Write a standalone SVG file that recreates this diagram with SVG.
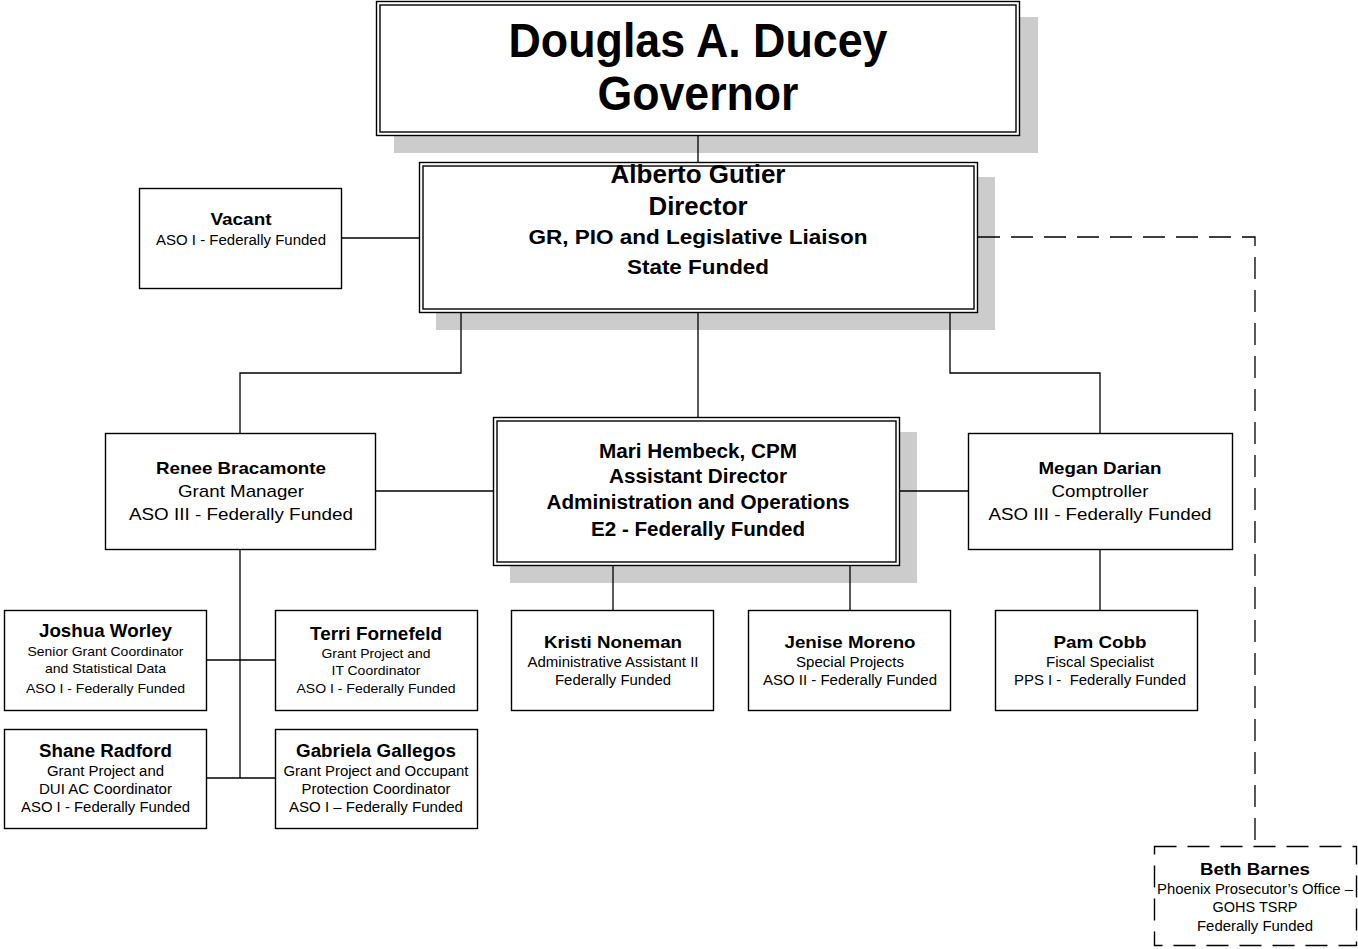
<svg xmlns="http://www.w3.org/2000/svg" width="1358" height="949" viewBox="0 0 1358 949">
<style>
.bg{fill:#ffffff}
.sh{fill:#cccccc;stroke:none}
.box{fill:#ffffff;stroke:#000000;stroke-width:1.4}
.inner{fill:none;stroke:#000000;stroke-width:1.4}
.dbox{fill:#ffffff;stroke:#000000;stroke-width:1.4;stroke-dasharray:22 11}
.ln{fill:none;stroke:#000000;stroke-width:1.3}
.dl{fill:none;stroke:#000000;stroke-width:1.3;stroke-dasharray:22 11}
text{font-family:"Liberation Sans",Arial,sans-serif;text-anchor:middle;fill:#000000}
.b{font-weight:bold}
</style>
<rect class="bg" x="0" y="0" width="1358" height="949"/>
<g id="shadows">
<rect class="sh" x="394" y="17" width="644" height="136"/>
<rect class="sh" x="436" y="177" width="559" height="153"/>
<rect class="sh" x="510" y="432" width="407" height="151"/>
</g>
<g id="connectors">
<path class="ln" d="M698 135 V162"/>
<path class="ln" d="M342 238 H419"/>
<path class="ln" d="M461 313 V373 H240 V433"/>
<path class="ln" d="M698 313 V417"/>
<path class="ln" d="M950 313 V373 H1100 V433"/>
<path class="ln" d="M376 491 H493"/>
<path class="ln" d="M900 491 H968"/>
<path class="ln" d="M240 550 V778"/>
<path class="ln" d="M207 660 H275"/>
<path class="ln" d="M207 778 H275"/>
<path class="ln" d="M613 566 V610"/>
<path class="ln" d="M850 566 V610"/>
<path class="ln" d="M1100 550 V610"/>
<path class="dl" d="M978 237 H1255 V846"/>
</g>
<g id="governor">
<rect class="box" x="376.5" y="1.5" width="643" height="134"/>
<rect class="inner" x="380" y="5" width="636" height="127"/>
<text class="b" x="698" y="57" font-size="48" textLength="379" lengthAdjust="spacingAndGlyphs">Douglas A. Ducey</text>
<text class="b" x="698" y="110" font-size="48" textLength="201" lengthAdjust="spacingAndGlyphs">Governor</text>
</g>
<g id="director">
<rect class="box" x="419.5" y="162.5" width="558" height="150"/>
<rect class="inner" x="423" y="166" width="551" height="143"/>
<text class="b" x="698" y="183" font-size="25" textLength="175" lengthAdjust="spacingAndGlyphs">Alberto Gutier</text>
<text class="b" x="698" y="215" font-size="25" textLength="99" lengthAdjust="spacingAndGlyphs">Director</text>
<text class="b" x="698" y="244" font-size="21" textLength="339" lengthAdjust="spacingAndGlyphs">GR, PIO and Legislative Liaison</text>
<text class="b" x="698" y="274" font-size="21" textLength="142" lengthAdjust="spacingAndGlyphs">State Funded</text>
</g>
<g id="vacant">
<rect class="box" x="139.5" y="188.5" width="202" height="100"/>
<text class="b" x="241" y="225" font-size="17" textLength="61" lengthAdjust="spacingAndGlyphs">Vacant</text>
<text x="241" y="245" font-size="14" textLength="170" lengthAdjust="spacingAndGlyphs">ASO I - Federally Funded</text>
</g>
<g id="renee">
<rect class="box" x="105.5" y="433.5" width="270" height="116"/>
<text class="b" x="241" y="474" font-size="17" textLength="170" lengthAdjust="spacingAndGlyphs">Renee Bracamonte</text>
<text x="241" y="497" font-size="17" textLength="126" lengthAdjust="spacingAndGlyphs">Grant Manager</text>
<text x="241" y="520" font-size="17" textLength="224" lengthAdjust="spacingAndGlyphs">ASO III - Federally Funded</text>
</g>
<g id="mari">
<rect class="box" x="493.5" y="417.5" width="406" height="148"/>
<rect class="inner" x="497" y="421" width="399" height="141"/>
<text class="b" x="698" y="458" font-size="20" textLength="198" lengthAdjust="spacingAndGlyphs">Mari Hembeck, CPM</text>
<text class="b" x="698" y="483" font-size="20" textLength="178" lengthAdjust="spacingAndGlyphs">Assistant Director</text>
<text class="b" x="698" y="509" font-size="20" textLength="303" lengthAdjust="spacingAndGlyphs">Administration and Operations</text>
<text class="b" x="698" y="536" font-size="20" textLength="214" lengthAdjust="spacingAndGlyphs">E2 - Federally Funded</text>
</g>
<g id="megan">
<rect class="box" x="968.5" y="433.5" width="264" height="116"/>
<text class="b" x="1100" y="474" font-size="17" textLength="123" lengthAdjust="spacingAndGlyphs">Megan Darian</text>
<text x="1100" y="497" font-size="17" textLength="97" lengthAdjust="spacingAndGlyphs">Comptroller</text>
<text x="1100" y="520" font-size="17" textLength="223" lengthAdjust="spacingAndGlyphs">ASO III - Federally Funded</text>
</g>
<g id="joshua">
<rect class="box" x="4.5" y="610.5" width="202" height="100"/>
<text class="b" x="105.5" y="637" font-size="18" textLength="133" lengthAdjust="spacingAndGlyphs">Joshua Worley</text>
<text x="105.5" y="656" font-size="13" textLength="156" lengthAdjust="spacingAndGlyphs">Senior Grant Coordinator</text>
<text x="105.5" y="673" font-size="13" textLength="121" lengthAdjust="spacingAndGlyphs">and Statistical Data</text>
<text x="105.5" y="693" font-size="13" textLength="159" lengthAdjust="spacingAndGlyphs">ASO I - Federally Funded</text>
</g>
<g id="terri">
<rect class="box" x="275.5" y="610.5" width="202" height="100"/>
<text class="b" x="376" y="640" font-size="18" textLength="132" lengthAdjust="spacingAndGlyphs">Terri Fornefeld</text>
<text x="376" y="658" font-size="13" textLength="109" lengthAdjust="spacingAndGlyphs">Grant Project and</text>
<text x="376" y="675" font-size="13" textLength="89" lengthAdjust="spacingAndGlyphs">IT Coordinator</text>
<text x="376" y="693" font-size="13" textLength="159" lengthAdjust="spacingAndGlyphs">ASO I - Federally Funded</text>
</g>
<g id="shane">
<rect class="box" x="4.5" y="729.5" width="202" height="99"/>
<text class="b" x="105.5" y="757" font-size="18" textLength="133" lengthAdjust="spacingAndGlyphs">Shane Radford</text>
<text x="105.5" y="776" font-size="14" textLength="117" lengthAdjust="spacingAndGlyphs">Grant Project and</text>
<text x="105.5" y="794" font-size="14" textLength="133" lengthAdjust="spacingAndGlyphs">DUI AC Coordinator</text>
<text x="105.5" y="812" font-size="14" textLength="169" lengthAdjust="spacingAndGlyphs">ASO I - Federally Funded</text>
</g>
<g id="gabriela">
<rect class="box" x="275.5" y="729.5" width="202" height="99"/>
<text class="b" x="376" y="757" font-size="18" textLength="160" lengthAdjust="spacingAndGlyphs">Gabriela Gallegos</text>
<text x="376" y="776" font-size="14" textLength="185" lengthAdjust="spacingAndGlyphs">Grant Project and Occupant</text>
<text x="376" y="794" font-size="14" textLength="149" lengthAdjust="spacingAndGlyphs">Protection Coordinator</text>
<text x="376" y="812" font-size="14" textLength="174" lengthAdjust="spacingAndGlyphs">ASO I – Federally Funded</text>
</g>
<g id="kristi">
<rect class="box" x="511.5" y="610.5" width="202" height="100"/>
<text class="b" x="613" y="648" font-size="17" textLength="138" lengthAdjust="spacingAndGlyphs">Kristi Noneman</text>
<text x="613" y="667" font-size="14" textLength="171" lengthAdjust="spacingAndGlyphs">Administrative Assistant II</text>
<text x="613" y="685" font-size="14" textLength="116" lengthAdjust="spacingAndGlyphs">Federally Funded</text>
</g>
<g id="jenise">
<rect class="box" x="748.5" y="610.5" width="202" height="100"/>
<text class="b" x="850" y="648" font-size="17" textLength="131" lengthAdjust="spacingAndGlyphs">Jenise Moreno</text>
<text x="850" y="667" font-size="14" textLength="108" lengthAdjust="spacingAndGlyphs">Special Projects</text>
<text x="850" y="685" font-size="14" textLength="174" lengthAdjust="spacingAndGlyphs">ASO II - Federally Funded</text>
</g>
<g id="pam">
<rect class="box" x="995.5" y="610.5" width="202" height="100"/>
<text class="b" x="1100" y="648" font-size="17" textLength="93" lengthAdjust="spacingAndGlyphs">Pam Cobb</text>
<text x="1100" y="667" font-size="14" textLength="108" lengthAdjust="spacingAndGlyphs">Fiscal Specialist</text>
<text x="1100" y="685" font-size="14" textLength="172" lengthAdjust="spacingAndGlyphs" xml:space="preserve">PPS I -  Federally Funded</text>
</g>
<g id="beth">
<rect class="dbox" x="1154.5" y="846.5" width="202" height="99"/>
<text class="b" x="1255" y="875" font-size="17" textLength="110" lengthAdjust="spacingAndGlyphs">Beth Barnes</text>
<text x="1255" y="894" font-size="14" textLength="196" lengthAdjust="spacingAndGlyphs">Phoenix Prosecutor’s Office –</text>
<text x="1255" y="912" font-size="14" textLength="85" lengthAdjust="spacingAndGlyphs">GOHS TSRP</text>
<text x="1255" y="931" font-size="14" textLength="116" lengthAdjust="spacingAndGlyphs">Federally Funded</text>
</g>
</svg>
